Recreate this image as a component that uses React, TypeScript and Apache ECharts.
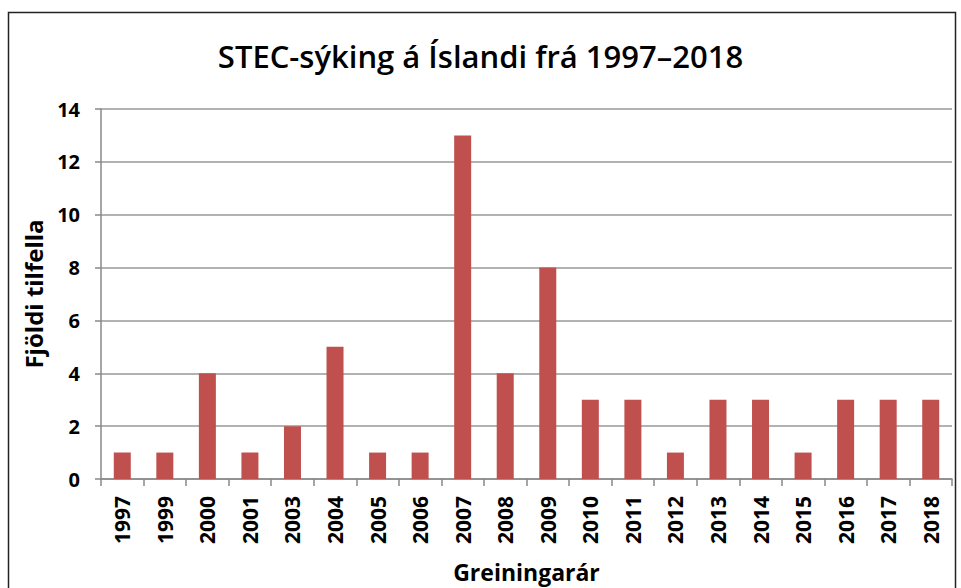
import React, { useEffect, useRef } from "react";
import * as echarts from "echarts";

const categories = ["1997","1999","2000","2001","2003","2004","2005","2006","2007","2008","2009","2010","2011","2012","2013","2014","2015","2016","2017","2018"];
const cases = [1,1,4,1,2,5,1,1,13,4,8,3,3,1,3,3,1,3,3,3];
const titleText = "STEC-sýking á Íslandi frá 1997\u20132018";
const yName = "Fjöldi tilfella";
const xName = "Greiningarár";

const FONT = "'Open Sans', 'Noto Sans', sans-serif";

export default function App() {
  const ref = useRef<HTMLDivElement>(null);
  useEffect(() => {
    if (!ref.current) return;
    const chart = echarts.init(ref.current, undefined, { renderer: "svg" });
    chart.setOption({
      animation: false,
      backgroundColor: "#ffffff",
      title: {
        text: titleText,
        left: "center",
        top: 35,
        textStyle: { fontFamily: FONT, fontSize: 31, fontWeight: 600, color: "#000" },
      },
      graphic: [
        {
          type: "rect",
          shape: { x: 8.5, y: 12.5, width: 947, height: 620 },
          style: { fill: "none", stroke: "#222", lineWidth: 1.5 },
          silent: true,
        },
      ],
      grid: { left: 101, right: 9, top: 109, bottom: 107, containLabel: false },
      xAxis: {
        type: "category",
        data: categories,
        name: xName,
        nameLocation: "middle",
        nameGap: 81,
        nameTextStyle: { fontFamily: FONT, fontSize: 23, fontWeight: "bold", color: "#000" },
        axisLine: { lineStyle: { color: "#888", width: 1.5 } },
        axisTick: { show: true, alignWithLabel: false, length: 7, lineStyle: { color: "#888", width: 1.5 } },
        axisLabel: { rotate: 90, fontFamily: FONT, fontSize: 21, fontWeight: "bold", color: "#000", margin: 17, interval: 0 },
      },
      yAxis: {
        type: "value",
        min: 0,
        max: 14,
        interval: 2,
        name: yName,
        nameLocation: "middle",
        nameGap: 56,
        nameRotate: 90,
        nameTextStyle: { fontFamily: FONT, fontSize: 24, fontWeight: "bold", color: "#000" },
        axisLine: { show: true, lineStyle: { color: "#888", width: 1.5 } },
        axisTick: { show: true, length: 6, lineStyle: { color: "#888", width: 1.5 } },
        axisLabel: { fontFamily: FONT, fontSize: 20, fontWeight: "bold", color: "#000", margin: 21 },
        splitLine: { lineStyle: { color: "#999", width: 1.5 } },
      },
      series: [
        {
          type: "bar",
          data: cases,
          barWidth: 17,
          itemStyle: { color: "#C0504D" },
        },
      ],
    });
    return () => chart.dispose();
  }, []);
  return (
    <div style={{ position: "absolute", left: 0, top: 0, width: 961, height: 588 }}>
      <div ref={ref} style={{ width: 961, height: 588 }} />
    </div>
  );
}
